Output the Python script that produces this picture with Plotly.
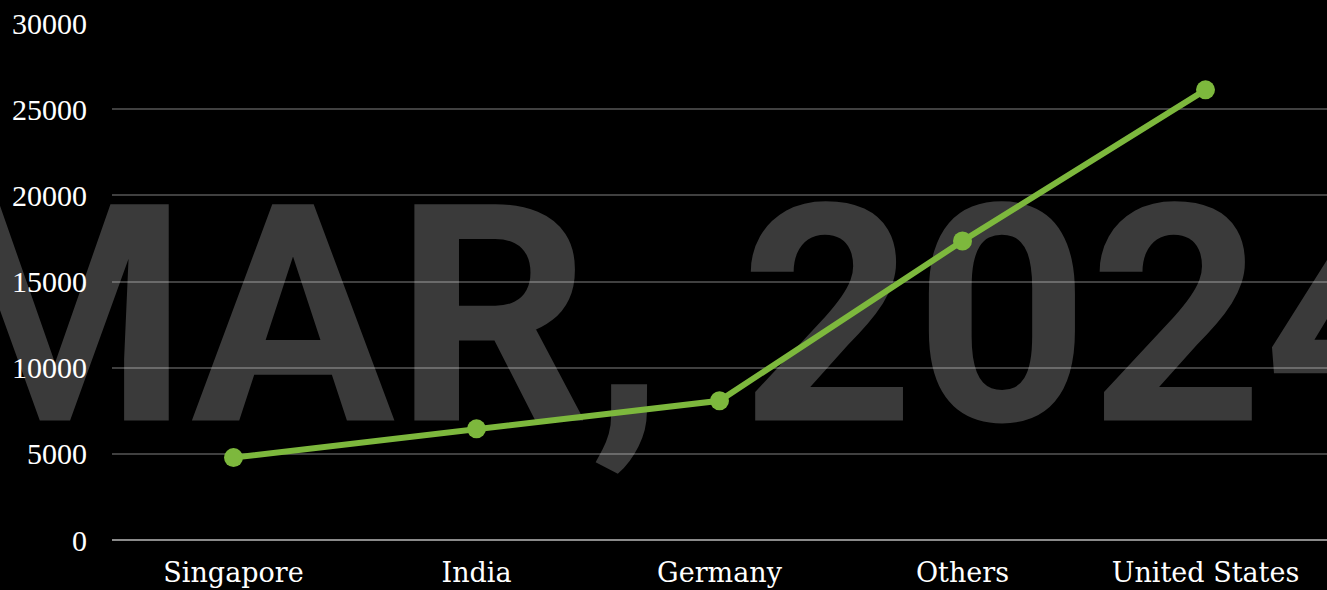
import plotly.graph_objects as go

countries = ["Singapore", "India", "Germany", "Others", "United States"]
values = [4780, 6450, 8080, 17350, 26120]
y_ticks = [0, 5000, 10000, 15000, 20000, 25000, 30000]
watermark = "MAR, 2024"

fig = go.Figure()
fig.add_trace(go.Scatter(
    x=countries, y=values, mode="lines+markers",
    line=dict(color="#7db83d", width=6),
    marker=dict(color="#7db83d", size=19),
    hoverinfo="x+y", showlegend=False,
))

fig.add_shape(
    type="rect", xref="paper", yref="paper", x0=-0.1, x1=1.035, y0=0.1, y1=0.85,
    line=dict(width=0), fillcolor="rgba(0,0,0,0)", layer="below",
    label=dict(text=watermark, textposition="middle center",
               font=dict(family="Roboto", size=304, weight=700, color="#3a3a3a")),
)

fig.update_layout(
    width=1327, height=590,
    margin=dict(l=112, r=0, t=23, b=50),
    paper_bgcolor="#000000", plot_bgcolor="rgba(0,0,0,0)",
    xaxis=dict(showgrid=False, zeroline=False, showline=False,
               tickfont=dict(family="DejaVu Serif", size=27, color="#ffffff"),
               ticklabelstandoff=14, range=[-0.5, 4.5]),
    yaxis=dict(range=[0, 30000], tickvals=y_ticks, tickformat="d",
               gridcolor="rgba(255,255,255,0.25)", gridwidth=1.5,
               zeroline=True, zerolinecolor="#8a8a8a", zerolinewidth=2,
               tickfont=dict(family="Liberation Serif", size=30, color="#ffffff"),
               ticklabelstandoff=24),
)

fig.write_html(
    "out.html",
    config={"displayModeBar": False},
    post_script="document.body.style.margin='0';document.body.style.overflow='hidden';",
)
